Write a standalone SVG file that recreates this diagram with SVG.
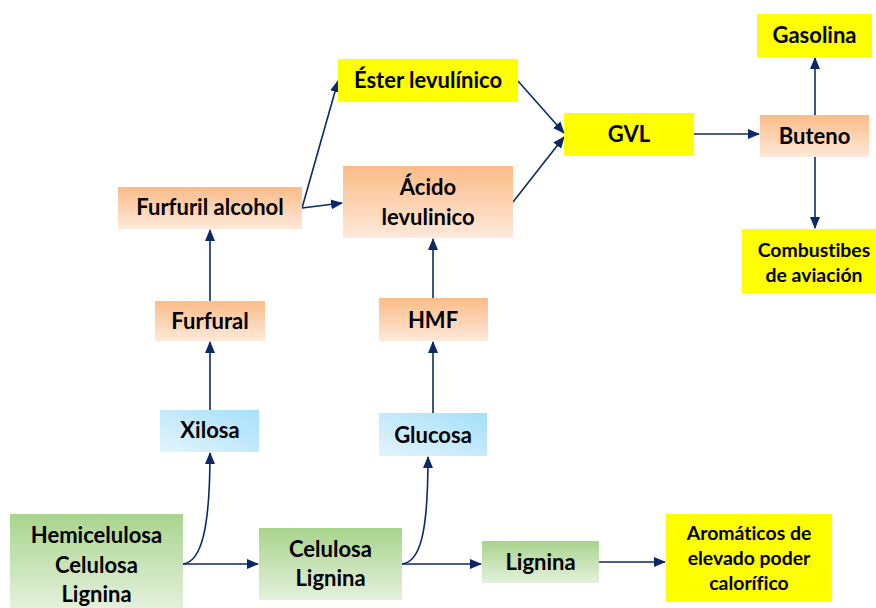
<svg xmlns="http://www.w3.org/2000/svg" width="876" height="608" viewBox="0 0 876 608">
<defs>
<linearGradient id="gOr" x1="0" y1="0" x2="0" y2="1"><stop offset="0" stop-color="#fbbc88"/><stop offset="1" stop-color="#fde9da"/></linearGradient>
<linearGradient id="gBl" x1="1" y1="0" x2="0" y2="1"><stop offset="0" stop-color="#a6dffa"/><stop offset="1" stop-color="#e3f5fd"/></linearGradient>
<linearGradient id="gGr" x1="0" y1="0" x2="0" y2="1"><stop offset="0" stop-color="#a8d48d"/><stop offset="1" stop-color="#e4f1dc"/></linearGradient>
<marker id="ah" markerUnits="userSpaceOnUse" markerWidth="12" markerHeight="10" refX="11" refY="5" orient="auto"><path d="M0,0 L12,5 L0,10 Z" fill="#0c2866"/></marker>
<style>
.t{font-family:Lato,"Liberation Sans",sans-serif;font-weight:bold;font-size:22px;fill:#000;text-anchor:middle;font-variant-ligatures:none}
.s{font-size:19.4px}
.or{fill:url(#gOr)}.bl{fill:url(#gBl)}.gr{fill:url(#gGr)}.ye{fill:#ffff00}
.c{fill:none;stroke:#0c2866;stroke-width:1.6;marker-end:url(#ah)}
</style>
</defs>
<g id="connectors">
<path class="c" d="M183,564 C201,562 210,530 210,453"/>
<path class="c" d="M183,564 L258,564"/>
<path class="c" d="M210,410 L210,342"/>
<path class="c" d="M210,301 L210,230"/>
<path class="c" d="M302,208 L338,81"/>
<path class="c" d="M302,208 L342,203"/>
<path class="c" d="M518,81 L564,133"/>
<path class="c" d="M513,202 L564,137"/>
<path class="c" d="M402,564 C421,562 428,530 428,457"/>
<path class="c" d="M402,564 L481,564"/>
<path class="c" d="M433,413 L433,342"/>
<path class="c" d="M433,298 L433,239"/>
<path class="c" d="M599,562 L665,562"/>
<path class="c" d="M694,134 L759,134"/>
<path class="c" d="M815,115 L815,58"/>
<path class="c" d="M815,157 L815,228"/>
</g>
<g id="hemicelulosa"><rect class="gr" x="10" y="514" width="173" height="94"/><text class="t" x="96.5" y="543">Hemicelulosa</text><text class="t" x="96.5" y="573">Celulosa</text><text class="t" x="96.5" y="602">Lignina</text></g>
<g id="xilosa"><rect class="bl" x="160" y="410" width="99" height="42"/><text class="t" x="210" y="438">Xilosa</text></g>
<g id="furfural"><rect class="or" x="155" y="301" width="110" height="40"/><text class="t" x="210" y="329">Furfural</text></g>
<g id="furfuril"><rect class="or" x="118" y="187" width="184" height="42"/><text class="t" x="210" y="215">Furfuril alcohol</text></g>
<g id="ester"><rect class="ye" x="338" y="59" width="180" height="43"/><text class="t" x="428" y="88">Éster levulínico</text></g>
<g id="acido"><rect class="or" x="343" y="166" width="170" height="72"/><text class="t" x="428" y="195">Ácido</text><text class="t" x="428" y="225">levulinico</text></g>
<g id="celulosa"><rect class="gr" x="259" y="528" width="143" height="72"/><text class="t" x="330.5" y="557">Celulosa</text><text class="t" x="330.5" y="586">Lignina</text></g>
<g id="glucosa"><rect class="bl" x="379" y="413" width="108" height="43"/><text class="t" x="433" y="443">Glucosa</text></g>
<g id="hmf"><rect class="or" x="379" y="298" width="109" height="43"/><text class="t" x="433" y="328">HMF</text></g>
<g id="lignina"><rect class="gr" x="482" y="541" width="117" height="42"/><text class="t" x="540.5" y="570">Lignina</text></g>
<g id="aromaticos"><rect class="ye" x="666" y="514" width="166" height="88"/><text class="t s" x="749" y="540">Aromáticos de</text><text class="t s" x="749" y="565">elevado poder</text><text class="t s" x="749" y="590">calorífico</text></g>
<g id="gvl"><rect class="ye" x="564" y="113" width="130" height="43"/><text class="t" x="629" y="142">GVL</text></g>
<g id="buteno"><rect class="or" x="760" y="115" width="109" height="42"/><text class="t" x="814.5" y="144">Buteno</text></g>
<g id="gasolina"><rect class="ye" x="757" y="14" width="115" height="43"/><text class="t" x="814.5" y="43">Gasolina</text></g>
<g id="combustibes"><rect class="ye" x="742" y="229" width="134" height="64"/><text class="t s" x="814" y="257">Combustibes</text><text class="t s" x="814" y="282">de aviación</text></g>
</svg>
